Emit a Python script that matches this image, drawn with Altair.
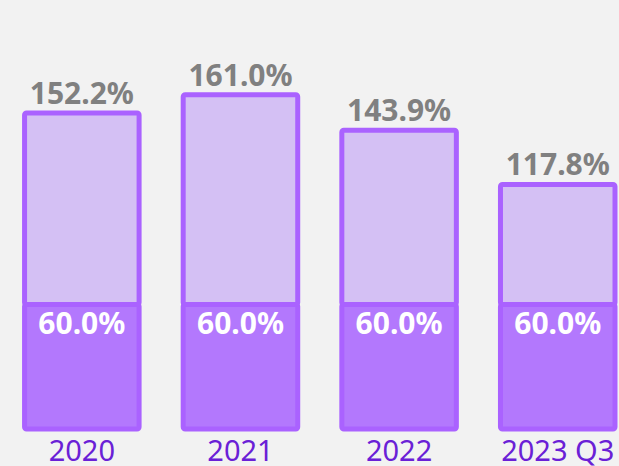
import altair as alt
import pandas as pd

# Ratio per period: total value and its fixed base portion
periods = ["2020", "2021", "2022", "2023 Q3"]
totals = [152.2, 161.0, 143.9, 117.8]
base = [60.0, 60.0, 60.0, 60.0]

rows = []
for p, t, b in zip(periods, totals, base):
    rows.append({"period": p, "seg": "base", "y0": 0.0, "y1": b, "total": t, "base": b,
                 "label_total": f"{t:.1f}%", "label_base": f"{b:.1f}%"})
    rows.append({"period": p, "seg": "extra", "y0": b, "y1": t, "total": t, "base": b,
                 "label_total": f"{t:.1f}%", "label_base": f"{b:.1f}%"})
df = pd.DataFrame(rows)

x = alt.X(
    "period:N",
    sort=periods,
    title=None,
    scale=alt.Scale(paddingInner=0.278, paddingOuter=0.09, align=0.86),
    axis=alt.Axis(
        labelAngle=0,
        labelFont="Noto Sans",
        labelFontSize=29,
        labelFontWeight="normal",
        labelColor="#6a20d6",
        labelPadding=8,
        ticks=False,
        domain=False,
        grid=False,
    ),
)
yscale = alt.Scale(domain=[0, 206.6], nice=False, zero=True)

bars = alt.Chart(df).mark_bar(
    strokeWidth=5, cornerRadius=2
).encode(
    x=x,
    y=alt.Y("y0:Q", scale=yscale, axis=None),
    y2="y1:Q",
    fill=alt.Fill("seg:N", scale=alt.Scale(domain=["base", "extra"],
                                           range=["#b378fd", "#d4c0f4"]), legend=None),
    stroke=alt.value("#aa62ff"),
)

top_labels = alt.Chart(df[df.seg == "extra"]).mark_text(
    font="Noto Sans", fontSize=30, fontWeight="bold", color="#808080",
    baseline="alphabetic", dy=-9
).encode(x=x, y=alt.Y("total:Q", scale=yscale), text="label_total:N")

base_labels = alt.Chart(df[df.seg == "base"]).mark_text(
    font="Noto Sans", fontSize=30, fontWeight="bold", color="#ffffff",
    baseline="top", dy=6
).encode(x=x, y=alt.Y("base:Q", scale=yscale), text="label_base:N")

chart = alt.layer(bars, top_labels, base_labels).properties(
    width=619, height=429,
    background="#f2f2f2",
    padding={"left": 0, "top": 0, "right": 0, "bottom": 37},
    autosize=alt.AutoSizeParams(type="none"),
).configure_view(stroke=None)

chart.save("out.html", embed_options={"renderer": "svg", "actions": False})
